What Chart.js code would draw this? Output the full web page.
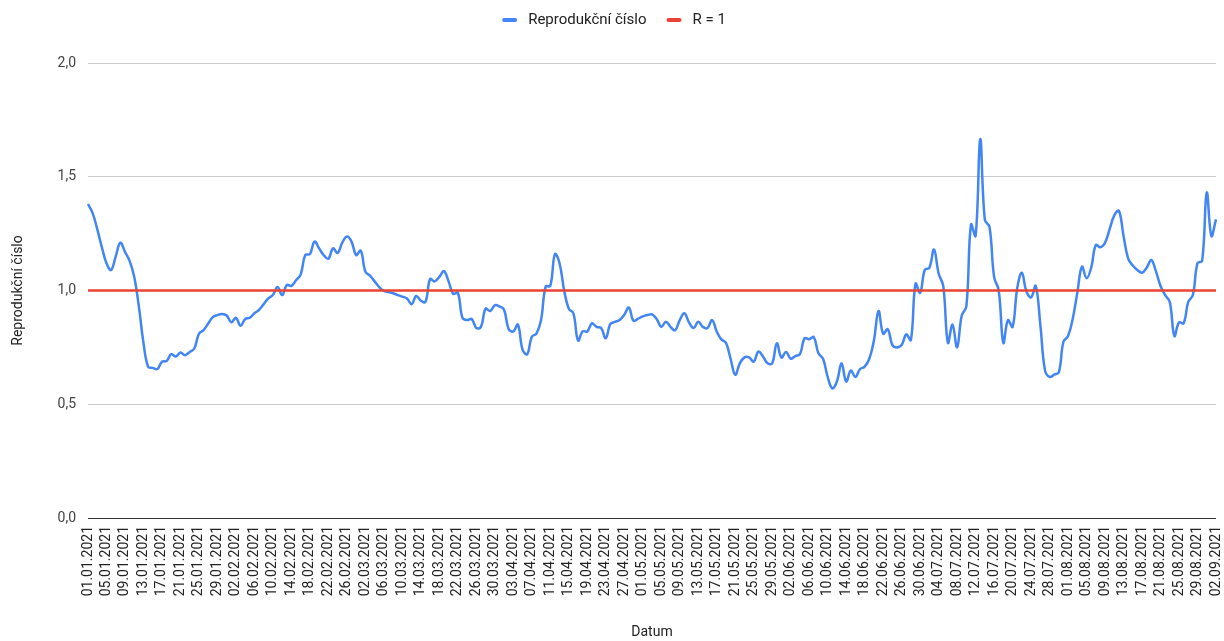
<!DOCTYPE html>
<html>
<head>
<meta charset="utf-8">
<script src="https://cdn.jsdelivr.net/npm/chart.js@4"></script>
<style>
  html, body { margin: 0; padding: 0; background: #ffffff; }
  #wrap { width: 1224px; height: 641px; position: relative; }
</style>
</head>
<body>
<div id="wrap"><canvas id="c" width="1224" height="641"></canvas></div>
<script>
// ---- data ----
const startDate = [2021, 0, 1];
const dayCount = 245;
const categories = [];
for (let i = 0; i < dayCount; i++) {
  const d = new Date(startDate[0], startDate[1], startDate[2] + i);
  const dd = String(d.getDate()).padStart(2, '0');
  const mm = String(d.getMonth() + 1).padStart(2, '0');
  categories.push(dd + '.' + mm + '.' + d.getFullYear());
}
const tickEvery = 4;

const reproValues = [
  1.38,1.34,1.27,1.19,1.12,1.09,1.15,1.21,1.17,1.13,
  1.06,0.93,0.77,0.665,0.66,0.655,0.687,0.69,0.72,0.71,
  0.727,0.715,0.73,0.745,0.81,0.826,0.855,0.883,0.892,0.897,
  0.89,0.86,0.88,0.845,0.875,0.88,0.90,0.915,0.94,0.965,
  0.98,1.015,0.98,1.024,1.02,1.045,1.07,1.156,1.16,1.215,
  1.185,1.155,1.14,1.185,1.165,1.21,1.237,1.215,1.156,1.175,
  1.083,1.065,1.04,1.015,0.998,0.993,0.988,0.98,0.973,0.965,
  0.94,0.976,0.955,0.95,1.05,1.04,1.06,1.085,1.04,0.985,
  0.99,0.88,0.87,0.875,0.835,0.84,0.92,0.91,0.935,0.93,
  0.915,0.83,0.82,0.85,0.74,0.72,0.797,0.81,0.87,1.017,
  1.02,1.16,1.12,1.0,0.92,0.90,0.78,0.82,0.82,0.856,
  0.84,0.835,0.79,0.853,0.862,0.87,0.893,0.925,0.867,0.876,
  0.886,0.892,0.895,0.875,0.84,0.863,0.84,0.825,0.87,0.90,
  0.86,0.835,0.863,0.84,0.835,0.87,0.82,0.785,0.77,0.70,
  0.63,0.68,0.706,0.706,0.687,0.731,0.71,0.68,0.68,0.768,
  0.705,0.73,0.70,0.712,0.72,0.79,0.786,0.795,0.724,0.70,
  0.62,0.57,0.60,0.68,0.60,0.648,0.62,0.655,0.665,0.70,
  0.78,0.91,0.81,0.83,0.76,0.75,0.76,0.807,0.782,1.03,
  0.99,1.09,1.10,1.18,1.075,1.02,0.77,0.85,0.75,0.89,
  0.93,1.29,1.24,1.665,1.31,1.28,1.06,1.0,0.77,0.87,
  0.84,1.01,1.078,0.995,0.97,1.02,0.85,0.65,0.62,0.63,
  0.64,0.775,0.80,0.875,0.99,1.105,1.054,1.10,1.20,1.19,
  1.21,1.27,1.33,1.35,1.24,1.14,1.11,1.09,1.078,1.10,
  1.134,1.085,1.02,0.98,0.95,0.80,0.86,0.856,0.95,0.98,
  1.12,1.13,1.43,1.24,1.313
];
const referenceLevel = 1;
const yTicks = [0, 0.5, 1, 1.5, 2];

const seriesNames = ['Reprodukční číslo', 'R = 1'];
const seriesColors = ['#4285F4', '#EA4335'];
const yTitle = 'Reprodukční číslo';
const xTitle = 'Datum';

// ---- chart ----
const FONT = 'Roboto';

const legendPlugin = {
  id: 'gLegend',
  afterDraw(chart) {
    const ctx = chart.ctx;
    ctx.save();
    ctx.font = '15px ' + FONT;
    ctx.textBaseline = 'middle';
    const sym = 15, gap = 11, itemGap = 20;
    const items = chart.data.datasets.map(d => ({ label: d.label, color: d.borderColor, w: ctx.measureText(d.label).width }));
    let total = 0;
    items.forEach((it, i) => { total += sym + gap + it.w + (i < items.length - 1 ? itemGap : 0); });
    let x = chart.width / 2 - total / 2 + 2;
    const y = 20;
    items.forEach(it => {
      ctx.strokeStyle = it.color;
      ctx.lineWidth = 4;
      ctx.lineCap = 'round';
      ctx.beginPath();
      ctx.moveTo(x + 2, y);
      ctx.lineTo(x + sym - 2, y);
      ctx.stroke();
      x += sym + gap;
      ctx.fillStyle = '#222';
      ctx.fillText(it.label, x, y);
      x += it.w + itemGap;
    });
    ctx.restore();
  }
};

new Chart(document.getElementById('c'), {
  type: 'line',
  data: {
    labels: categories,
    datasets: [
      {
        label: seriesNames[0],
        data: reproValues,
        borderColor: seriesColors[0],
        backgroundColor: seriesColors[0],
        borderWidth: 2.5,
        pointRadius: 0,
        pointHoverRadius: 0,
        tension: 0.4,
        fill: false,
        order: 1
      },
      {
        label: seriesNames[1],
        data: [
          { x: categories[0], y: referenceLevel },
          { x: categories[categories.length - 1], y: referenceLevel }
        ],
        borderColor: seriesColors[1],
        backgroundColor: seriesColors[1],
        borderWidth: 2.5,
        pointRadius: 0,
        pointHoverRadius: 0,
        tension: 0,
        fill: false,
        order: 0
      }
    ]
  },
  options: {
    responsive: false,
    animation: false,
    events: [],
    layout: { padding: { top: 63, right: 8, bottom: 0, left: 0 } },
    plugins: {
      legend: { display: false },
      tooltip: { enabled: false }
    },
    scales: {
      x: {
        type: 'category',
        offset: false,
        grid: { display: false, drawTicks: false },
        border: { display: false },
        ticks: {
          autoSkip: false,
          minRotation: 90,
          maxRotation: 90,
          padding: 8,
          color: '#222',
          font: { family: FONT, size: 14 },
          callback: function (val, idx) {
            return idx % tickEvery === 0 ? this.getLabelForValue(val) : null;
          }
        },
        title: {
          display: true,
          text: xTitle,
          color: '#222',
          font: { family: FONT, size: 14 },
          padding: { top: 0, bottom: 0 }
        },
        afterFit: s => { s.height = 123; s.paddingLeft = 0; s.paddingRight = 0; }
      },
      y: {
        min: yTicks[0],
        max: yTicks[yTicks.length - 1],
        afterBuildTicks: s => { s.ticks = yTicks.map(v => ({ value: v })); },
        grid: {
          drawTicks: false,
          lineWidth: 1,
          color: c => (c.tick && c.tick.value === 0) ? '#333333' : '#cccccc'
        },
        border: { display: false },
        ticks: {
          padding: 12,
          color: '#444',
          font: { family: FONT, size: 14 },
          callback: v => Number(v).toFixed(1).replace('.', ',')
        },
        title: {
          display: true,
          text: yTitle,
          color: '#222',
          font: { family: FONT, size: 14 },
          padding: { top: 10, bottom: 0 }
        },
        afterFit: s => { s.width = 88; s.paddingTop = 0; s.paddingBottom = 0; }
      }
    }
  },
  plugins: [legendPlugin]
});
</script>
</body>
</html>
